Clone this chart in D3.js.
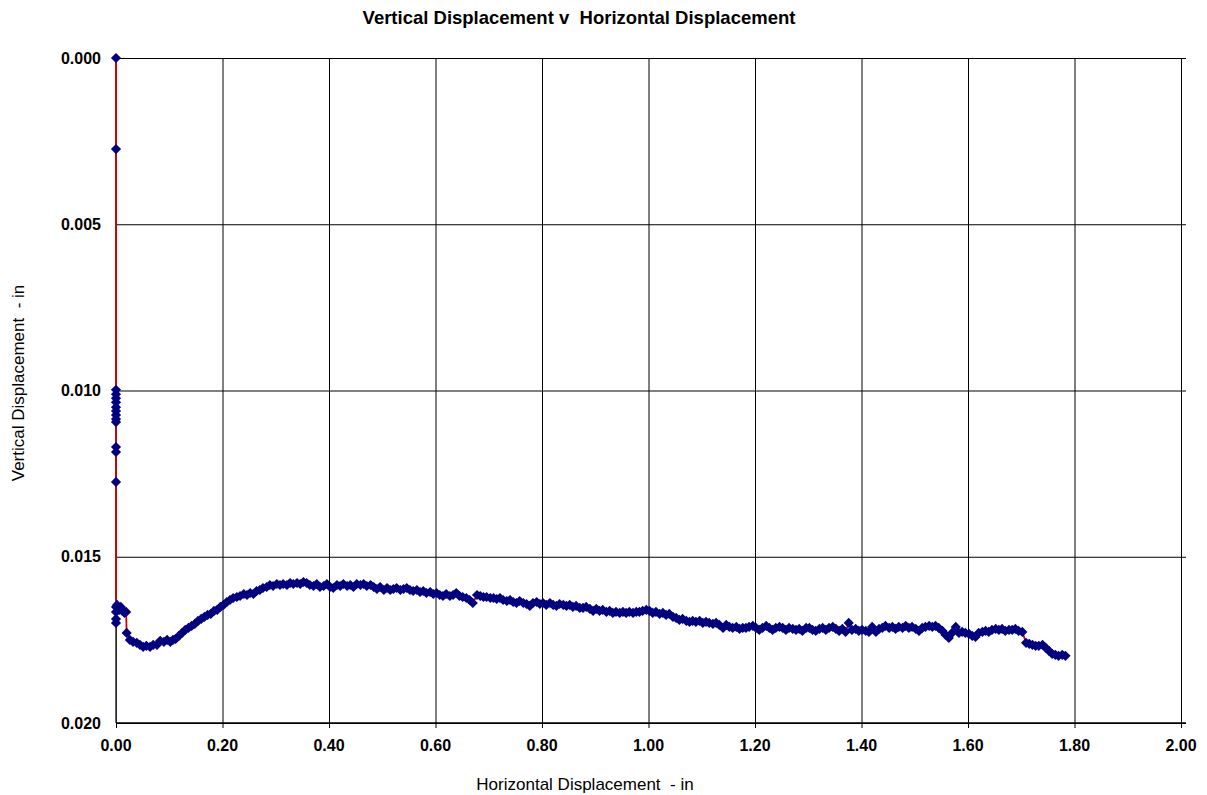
<!DOCTYPE html>
<html>
<head>
<meta charset="utf-8">
<script src="https://cdn.jsdelivr.net/npm/d3@7"></script>
<style>
	body { margin: 0; background: #fff; }
	text { font-family: "Liberation Sans", Arial, sans-serif; }
</style>
</head>
<body>
<div id="chart"></div>
<script>

const chartTitle = 'Vertical Displacement v  Horizontal Displacement';
const xTitle = 'Horizontal Displacement  - in';
const yTitle = 'Vertical Displacement  - in';

const xTicks = [0, 0.2, 0.4, 0.6, 0.8, 1.0, 1.2, 1.4, 1.6, 1.8, 2.0];
const yTicks = [0, 0.005, 0.010, 0.015, 0.020];

// horizontal displacement (in), in reading order
const xValues = [
	0, 0, 0, 0, 0, 0, 0, 0, 0, 0, 0, 0, 0, 0, 0, 0, 0, 0,
	0.002, 0.004, 0.006, 0.009, 0.012, 0.016, 0.019,
	0.020, 0.026, 0.032, 0.039, 0.045, 0.051, 0.057, 0.064, 0.070, 0.077,
	0.083, 0.090, 0.096, 0.102, 0.107, 0.112, 0.118, 0.124, 0.130, 0.136,
	0.142, 0.148, 0.154, 0.160, 0.166, 0.172, 0.178, 0.184, 0.190, 0.196,
	0.202, 0.208, 0.214, 0.220, 0.227, 0.233, 0.240, 0.246, 0.252, 0.258,
	0.264, 0.270, 0.276, 0.283, 0.289, 0.295, 0.302, 0.308, 0.314, 0.321,
	0.327, 0.333, 0.340, 0.346, 0.352, 0.358, 0.364, 0.371, 0.377, 0.383,
	0.390, 0.396, 0.402, 0.408, 0.415, 0.421, 0.427, 0.434, 0.440, 0.446,
	0.452, 0.459, 0.465, 0.471, 0.478, 0.484, 0.490, 0.496, 0.503, 0.509,
	0.515, 0.521, 0.527, 0.534, 0.540, 0.546, 0.552, 0.558, 0.565, 0.571,
	0.577, 0.583, 0.590, 0.596, 0.602, 0.608, 0.614, 0.620, 0.627, 0.633,
	0.639, 0.645, 0.651, 0.658, 0.664, 0.670, 0.678, 0.684, 0.690, 0.696,
	0.703, 0.709, 0.715, 0.721, 0.727, 0.734, 0.740, 0.746, 0.752, 0.758,
	0.765, 0.771, 0.777, 0.783, 0.790, 0.796, 0.802, 0.808, 0.815, 0.821,
	0.827, 0.833, 0.840, 0.846, 0.852, 0.858, 0.864, 0.871, 0.877, 0.883,
	0.890, 0.896, 0.902, 0.908, 0.914, 0.921, 0.927, 0.933, 0.939, 0.946,
	0.952, 0.958, 0.964, 0.971, 0.977, 0.983, 0.989, 0.996, 1.002, 1.008,
	1.014, 1.021, 1.027, 1.033, 1.039, 1.046, 1.052, 1.058, 1.064, 1.071,
	1.077, 1.083, 1.089, 1.096, 1.102, 1.108, 1.114, 1.121, 1.127, 1.133,
	1.140, 1.146, 1.152, 1.158, 1.165, 1.171, 1.177, 1.183, 1.189, 1.196,
	1.202, 1.208, 1.214, 1.221, 1.227, 1.233, 1.239, 1.246, 1.252, 1.258,
	1.264, 1.271, 1.277, 1.283, 1.289, 1.296, 1.302, 1.308, 1.314, 1.321,
	1.327, 1.333, 1.339, 1.346, 1.352, 1.358, 1.364, 1.370, 1.376, 1.382,
	1.389, 1.395, 1.401, 1.408, 1.414, 1.420, 1.427, 1.433, 1.439, 1.445,
	1.452, 1.458, 1.464, 1.470, 1.477, 1.483, 1.489, 1.495, 1.502, 1.508,
	1.514, 1.520, 1.527, 1.533, 1.539, 1.545, 1.552, 1.558, 1.564, 1.570,
	1.577, 1.583, 1.589, 1.595, 1.602, 1.608, 1.614, 1.620, 1.627, 1.633,
	1.639, 1.645, 1.652, 1.658, 1.664, 1.670, 1.677, 1.683, 1.689, 1.695,
	1.702, 1.709, 1.715, 1.721, 1.727, 1.733, 1.740, 1.746, 1.752, 1.758,
	1.764, 1.770, 1.777, 1.783
];

// vertical displacement (in), same order
const yValues = [
	0.00000, 0.00274, 0.00998, 0.01011, 0.01023, 0.01035, 0.01050, 0.01062, 0.01074,
	0.01086, 0.01095, 0.01170, 0.01185, 0.01275, 0.01651, 0.01687, 0.01699, 0.01666,
	0.01645, 0.01654, 0.01660, 0.01651, 0.01663, 0.01669, 0.01666,
	0.01729, 0.01750, 0.01756, 0.01759, 0.01765, 0.01771, 0.01768, 0.01771, 0.01765, 0.01765,
	0.01753, 0.01756, 0.01750, 0.01756, 0.01750, 0.01747, 0.01738, 0.01729, 0.01720, 0.01714,
	0.01708, 0.01702, 0.01693, 0.01687, 0.01681, 0.01675, 0.01672, 0.01663, 0.01660, 0.01651,
	0.01645, 0.01636, 0.01630, 0.01624, 0.01621, 0.01618, 0.01612, 0.01615, 0.01609, 0.01612,
	0.01603, 0.01600, 0.01594, 0.01591, 0.01585, 0.01588, 0.01582, 0.01585, 0.01582, 0.01585,
	0.01579, 0.01582, 0.01579, 0.01582, 0.01576, 0.01579, 0.01585, 0.01588, 0.01582, 0.01591,
	0.01588, 0.01582, 0.01591, 0.01594, 0.01585, 0.01588, 0.01582, 0.01588, 0.01585, 0.01591,
	0.01582, 0.01585, 0.01582, 0.01588, 0.01585, 0.01591, 0.01597, 0.01591, 0.01600, 0.01594,
	0.01600, 0.01597, 0.01594, 0.01600, 0.01597, 0.01594, 0.01600, 0.01603, 0.01600, 0.01606,
	0.01603, 0.01609, 0.01606, 0.01612, 0.01609, 0.01615, 0.01618, 0.01612, 0.01618, 0.01615,
	0.01609, 0.01618, 0.01621, 0.01624, 0.01630, 0.01639, 0.01615, 0.01618, 0.01621, 0.01621,
	0.01624, 0.01624, 0.01627, 0.01624, 0.01630, 0.01633, 0.01630, 0.01636, 0.01639, 0.01633,
	0.01639, 0.01642, 0.01648, 0.01639, 0.01636, 0.01642, 0.01639, 0.01645, 0.01639, 0.01645,
	0.01648, 0.01642, 0.01645, 0.01648, 0.01645, 0.01651, 0.01648, 0.01654, 0.01654, 0.01651,
	0.01657, 0.01663, 0.01657, 0.01663, 0.01660, 0.01666, 0.01663, 0.01669, 0.01666, 0.01669,
	0.01666, 0.01669, 0.01666, 0.01669, 0.01666, 0.01666, 0.01663, 0.01660, 0.01663, 0.01669,
	0.01666, 0.01672, 0.01669, 0.01675, 0.01672, 0.01681, 0.01684, 0.01690, 0.01687, 0.01693,
	0.01696, 0.01693, 0.01696, 0.01693, 0.01699, 0.01696, 0.01699, 0.01702, 0.01699, 0.01705,
	0.01714, 0.01705, 0.01711, 0.01714, 0.01711, 0.01717, 0.01714, 0.01714, 0.01711, 0.01708,
	0.01714, 0.01720, 0.01714, 0.01708, 0.01714, 0.01720, 0.01714, 0.01711, 0.01714, 0.01720,
	0.01714, 0.01717, 0.01720, 0.01717, 0.01723, 0.01714, 0.01714, 0.01720, 0.01723, 0.01717,
	0.01714, 0.01720, 0.01714, 0.01711, 0.01717, 0.01723, 0.01717, 0.01726, 0.01699, 0.01720,
	0.01717, 0.01723, 0.01720, 0.01723, 0.01726, 0.01711, 0.01726, 0.01717, 0.01714, 0.01708,
	0.01714, 0.01711, 0.01717, 0.01711, 0.01714, 0.01708, 0.01714, 0.01711, 0.01717, 0.01723,
	0.01714, 0.01711, 0.01708, 0.01711, 0.01708, 0.01714, 0.01723, 0.01735, 0.01744, 0.01729,
	0.01711, 0.01729, 0.01726, 0.01729, 0.01732, 0.01738, 0.01741, 0.01729, 0.01726, 0.01723,
	0.01726, 0.01720, 0.01717, 0.01720, 0.01717, 0.01723, 0.01720, 0.01720, 0.01717, 0.01723,
	0.01726, 0.01759, 0.01762, 0.01765, 0.01768, 0.01768, 0.01765, 0.01774, 0.01783, 0.01792,
	0.01795, 0.01798, 0.01795, 0.01798
];

class ScatterChart {

	constructor(options) {
		this.data = options.data;
		this.element = options.element;
		this.draw();
	}

	draw() {

		this.width = 1207;
		this.height = 795;
		this.margin = { top: 58, right: 26, bottom: 72, left: 116 };

		this.createSVG();
		this.createScales();
		this.createAxes();
		this.createLine();
		this.createMarkers();
		this.createTitles();

	}

	createSVG() {
		this.svg = d3.select(this.element)
			.append('svg')
				.attr('width', this.width)
				.attr('height', this.height);
	}

	createScales() {

		this.xScale = d3.scaleLinear()
			.domain([0, 2])
			.range([this.margin.left, this.width - this.margin.right]);

		this.yScale = d3.scaleLinear()
			.domain([0, 0.02])
			.range([this.margin.top, this.height - this.margin.bottom]);

	}

	createAxes() {

		const plotW = this.width - this.margin.left - this.margin.right;
		const plotH = this.height - this.margin.top - this.margin.bottom;

		// horizontal gridlines, running a few px past the right edge
		const yGrid = this.svg.append('g')
			.attr('transform', `translate(${this.margin.left}, 0)`)
			.call(d3.axisRight(this.yScale).tickValues(yTicks).tickSize(plotW + 5).tickFormat(''));
		yGrid.select('.domain').remove();
		yGrid.selectAll('line').attr('stroke', '#000').attr('stroke-width', 1);

		// vertical gridlines, ticking out below the axis
		const xGrid = this.svg.append('g')
			.attr('transform', `translate(0, ${this.margin.top})`)
			.call(d3.axisBottom(this.xScale).tickValues(xTicks).tickSize(plotH + 5).tickFormat(''));
		xGrid.select('.domain').remove();
		xGrid.selectAll('line').attr('stroke', '#000').attr('stroke-width', 1);

		this.svg.append('line')
			.attr('x1', this.margin.left).attr('x2', this.margin.left)
			.attr('y1', this.margin.top).attr('y2', this.height - this.margin.bottom)
			.attr('stroke', '#333').attr('stroke-width', 1.5);

		this.svg.append('line')
			.attr('x1', this.margin.left).attr('x2', this.width - this.margin.right + 5)
			.attr('y1', this.height - this.margin.bottom).attr('y2', this.height - this.margin.bottom)
			.attr('stroke', '#000').attr('stroke-width', 1.5);

		this.svg.append('g')
			.selectAll('text')
			.data(yTicks).enter()
			.append('text')
				.attr('x', this.margin.left - 15)
				.attr('y', d => this.yScale(d) + 5.5)
				.attr('text-anchor', 'end')
				.attr('font-size', 16)
				.attr('font-weight', 'bold')
				.text(d => d3.format('.3f')(d));

		this.svg.append('g')
			.selectAll('text')
			.data(xTicks).enter()
			.append('text')
				.attr('x', d => this.xScale(d))
				.attr('y', this.height - this.margin.bottom + 28)
				.attr('text-anchor', 'middle')
				.attr('font-size', 16)
				.attr('font-weight', 'bold')
				.text(d => d3.format('.2f')(d));

	}

	createLine() {

		const line = d3.line()
			.x(d => this.xScale(d.x))
			.y(d => this.yScale(d.y));

		this.svg.append('path')
			.datum(this.data)
			.attr('d', line)
			.attr('fill', 'none')
			.attr('stroke', '#d40000')
			.attr('stroke-width', 1.8);

	}

	createMarkers() {

		const diamond = d3.symbol().type(d3.symbolDiamond2).size(66);

		this.svg.append('g')
			.selectAll('path')
			.data(this.data).enter()
			.append('path')
				.attr('transform', d => `translate(${this.xScale(d.x)}, ${this.yScale(d.y)})`)
				.attr('d', diamond)
				.attr('fill', '#000080');

	}

	createTitles() {

		this.svg.append('text')
			.attr('x', 579)
			.attr('y', 24)
			.attr('text-anchor', 'middle')
			.attr('font-size', 18.5)
			.attr('font-weight', 'bold')
			.style('white-space', 'pre')
			.text(chartTitle);

		this.svg.append('text')
			.attr('x', 585)
			.attr('y', 790)
			.attr('text-anchor', 'middle')
			.attr('font-size', 17)
			.style('white-space', 'pre')
			.text(xTitle);

		this.svg.append('text')
			.attr('transform', `translate(24, 383) rotate(-90)`)
			.attr('text-anchor', 'middle')
			.attr('font-size', 17)
			.style('white-space', 'pre')
			.text(yTitle);

	}

}

const points = xValues.map((x, i) => ({ x: x, y: yValues[i] }));

new ScatterChart({ data: points, element: '#chart' });

</script>
</body>
</html>
